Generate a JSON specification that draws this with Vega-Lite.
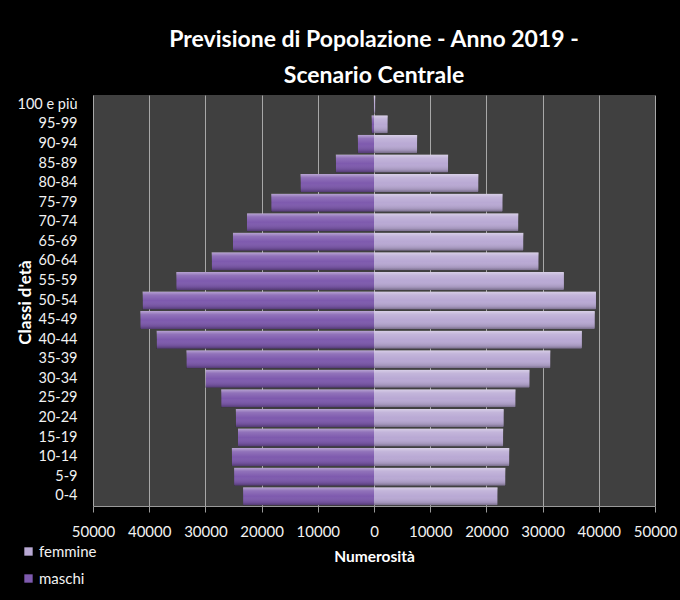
{
  "$schema": "https://vega.github.io/schema/vega-lite/v6.json",
  "autosize": "none",
  "width": 562,
  "height": 411,
  "padding": {"left": 93, "top": 95, "right": 25, "bottom": 94},
  "background": "#000000",
  "title": {
    "text": ["Previsione di Popolazione - Anno 2019 -", "Scenario Centrale"],
    "anchor": "middle",
    "frame": "group",
    "font": "Lato",
    "fontSize": 23,
    "fontWeight": "bold",
    "color": "#ffffff",
    "lineHeight": 36,
    "offset": 7
  },
  "config": {
    "view": {"fill": "#404040", "stroke": null},
    "axis": {"labelFont": "Lato", "titleFont": "Lato", "labelColor": "#f2f2f2", "titleColor": "#ffffff"},
    "legend": {"labelFont": "Lato"}
  },
  "data": {
    "values": [
      {"classe": "100 e più", "sesso": "maschi", "valore": -60},
      {"classe": "95-99", "sesso": "maschi", "valore": -450},
      {"classe": "90-94", "sesso": "maschi", "valore": -2900},
      {"classe": "85-89", "sesso": "maschi", "valore": -6800},
      {"classe": "80-84", "sesso": "maschi", "valore": -13100},
      {"classe": "75-79", "sesso": "maschi", "valore": -18300},
      {"classe": "70-74", "sesso": "maschi", "valore": -22600},
      {"classe": "65-69", "sesso": "maschi", "valore": -25100},
      {"classe": "60-64", "sesso": "maschi", "valore": -28900},
      {"classe": "55-59", "sesso": "maschi", "valore": -35200},
      {"classe": "50-54", "sesso": "maschi", "valore": -41200},
      {"classe": "45-49", "sesso": "maschi", "valore": -41600},
      {"classe": "40-44", "sesso": "maschi", "valore": -38700},
      {"classe": "35-39", "sesso": "maschi", "valore": -33400},
      {"classe": "30-34", "sesso": "maschi", "valore": -30000},
      {"classe": "25-29", "sesso": "maschi", "valore": -27200},
      {"classe": "20-24", "sesso": "maschi", "valore": -24600},
      {"classe": "15-19", "sesso": "maschi", "valore": -24200},
      {"classe": "10-14", "sesso": "maschi", "valore": -25300},
      {"classe": "5-9", "sesso": "maschi", "valore": -24900},
      {"classe": "0-4", "sesso": "maschi", "valore": -23300},
      {"classe": "100 e più", "sesso": "femmine", "valore": 250},
      {"classe": "95-99", "sesso": "femmine", "valore": 2450},
      {"classe": "90-94", "sesso": "femmine", "valore": 7700},
      {"classe": "85-89", "sesso": "femmine", "valore": 13200},
      {"classe": "80-84", "sesso": "femmine", "valore": 18600},
      {"classe": "75-79", "sesso": "femmine", "valore": 22900},
      {"classe": "70-74", "sesso": "femmine", "valore": 25700},
      {"classe": "65-69", "sesso": "femmine", "valore": 26600},
      {"classe": "60-64", "sesso": "femmine", "valore": 29300},
      {"classe": "55-59", "sesso": "femmine", "valore": 33800},
      {"classe": "50-54", "sesso": "femmine", "valore": 39500},
      {"classe": "45-49", "sesso": "femmine", "valore": 39300},
      {"classe": "40-44", "sesso": "femmine", "valore": 37000},
      {"classe": "35-39", "sesso": "femmine", "valore": 31400},
      {"classe": "30-34", "sesso": "femmine", "valore": 27700},
      {"classe": "25-29", "sesso": "femmine", "valore": 25200},
      {"classe": "20-24", "sesso": "femmine", "valore": 23100},
      {"classe": "15-19", "sesso": "femmine", "valore": 23000},
      {"classe": "10-14", "sesso": "femmine", "valore": 24100},
      {"classe": "5-9", "sesso": "femmine", "valore": 23400},
      {"classe": "0-4", "sesso": "femmine", "valore": 22000}
    ]
  },
  "encoding": {
    "y": {
      "field": "classe",
      "type": "nominal",
      "sort": ["100 e più", "95-99", "90-94", "85-89", "80-84", "75-79", "70-74", "65-69", "60-64", "55-59", "50-54", "45-49", "40-44", "35-39", "30-34", "25-29", "20-24", "15-19", "10-14", "5-9", "0-4"],
      "scale": {"paddingInner": 0.08, "paddingOuter": 0.04},
      "axis": {
        "title": "Classi d'età",
        "titleFontSize": 17,
        "titleFontWeight": "bold",
        "titleX": -68,
        "titleY": 207,
        "titleAlign": "center",
        "titleBaseline": "middle",
        "titleAngle": -90,
        "labelFontSize": 14.5,
        "labelPadding": 16,
        "ticks": false,
        "domain": false,
        "grid": false
      }
    },
    "x": {
      "field": "valore",
      "type": "quantitative",
      "scale": {"domain": [-50000, 50000], "nice": false},
      "axis": {
        "title": "Numerosità",
        "titleFontSize": 15.5,
        "titleFontWeight": "bold",
        "titlePadding": 10,
        "values": [-50000, -40000, -30000, -20000, -10000, 0, 10000, 20000, 30000, 40000, 50000],
        "labelExpr": "format(abs(datum.value), 'd')",
        "labelFontSize": 15,
        "labelPadding": 12,
        "labelFlush": false,
        "labelOverlap": false,
        "grid": true,
        "gridColor": "#a8a8a8",
        "gridWidth": 1,
        "tickColor": "#9a9a9a",
        "tickSize": 6,
        "domainColor": "#9a9a9a"
      }
    }
  },
  "layer": [
    {
      "mark": {"type": "bar", "cornerRadius": 1},
      "encoding": {
        "color": {
          "field": "sesso",
          "type": "nominal",
          "scale": {"domain": ["femmine", "maschi"], "range": ["#b9a9d4", "#7e5aae"]},
          "legend": {
            "orient": "none",
            "legendX": -72,
            "legendY": 449,
            "title": null,
            "symbolType": "square",
            "symbolSize": 70,
            "symbolStrokeWidth": 0,
            "labelColor": "#f2f2f2",
            "labelFontSize": 15,
            "labelOffset": 3,
            "rowPadding": 11
          }
        }
      }
    },
    {
      "mark": {
        "type": "bar",
        "color": {
          "gradient": "linear",
          "x1": 0, "y1": 0, "x2": 0, "y2": 1,
          "stops": [
            {"offset": 0, "color": "rgba(255,255,255,0.45)"},
            {"offset": 0.2, "color": "rgba(255,255,255,0.15)"},
            {"offset": 0.5, "color": "rgba(255,255,255,0)"},
            {"offset": 0.85, "color": "rgba(0,0,0,0.12)"},
            {"offset": 1, "color": "rgba(0,0,0,0.35)"}
          ]
        }
      },
      "encoding": {}
    }
  ]
}
